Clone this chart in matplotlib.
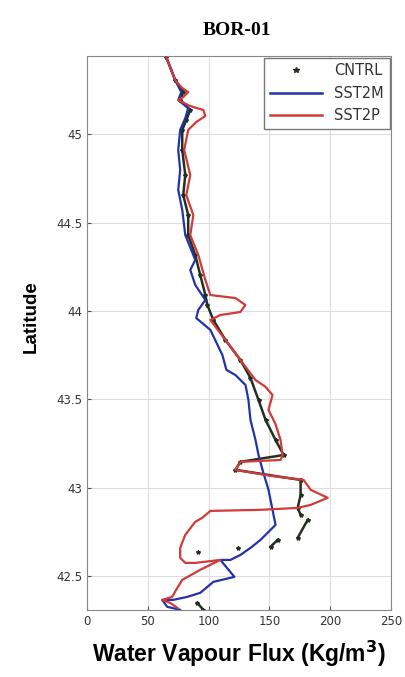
import numpy as np
import matplotlib
matplotlib.use("Agg")
import matplotlib.pyplot as plt
from matplotlib.lines import Line2D

# SST2P (red) path: flux, latitude
sst2p_flux = [65.2, 72.6, 78.4, 83.3, 79.2, 75.1, 85.0, 95.7, 97.4, 89.9, 83.3,
              80.0, 85.0, 81.7, 87.5, 85.0, 91.6, 97.4, 101.5, 122.1, 130.3, 126.2,
              109.7, 101.5, 113.9, 126.2, 138.6, 146.9, 152.6, 149.3, 155.1, 159.2,
              160.9, 159.2, 126.2, 122.1, 151.0, 178.2, 184.0, 198.0, 184.0, 173.3,
              142.7, 101.5, 94.9, 89.1, 80.9, 76.7, 76.7, 80.9, 89.1, 109.7, 93.2,
              78.4, 73.4, 70.1, 61.9, 68.5, 74.3]
sst2p_lat = [45.435, 45.305, 45.26, 45.237, 45.209, 45.192, 45.158, 45.136, 45.102,
             45.068, 45.023, 44.91, 44.768, 44.655, 44.542, 44.429, 44.316, 44.175,
             44.09, 44.073, 44.034, 43.994, 43.977, 43.949, 43.836, 43.723, 43.61,
             43.571, 43.525, 43.441, 43.36, 43.271, 43.184, 43.158, 43.147, 43.102,
             43.068, 43.045, 42.989, 42.944, 42.904, 42.887, 42.876, 42.87, 42.831,
             42.808, 42.735, 42.661, 42.605, 42.576, 42.576, 42.593, 42.537, 42.48,
             42.424, 42.384, 42.367, 42.35, 42.322]

# SST2M (blue) path
sst2m_flux = [65.2, 72.6, 77.6, 75.1, 83.3, 80.9, 76.7, 75.1, 76.7, 75.1, 78.4,
              80.9, 89.1, 85.0, 89.1, 97.4, 91.6, 89.9, 101.5, 111.4, 114.7, 122.1,
              130.4, 132.8, 134.5, 138.6, 141.1, 144.4, 149.3, 152.6, 155.1, 149.3,
              142.7, 134.5, 126.2, 118.0, 109.7, 121.3, 104.0, 93.2, 82.5, 71.0,
              61.9, 66.0, 76.7]
sst2m_lat = [45.435, 45.305, 45.237, 45.192, 45.147, 45.09, 45.023, 44.91, 44.797,
             44.684, 44.571, 44.429, 44.288, 44.232, 44.147, 44.062, 44.006, 43.96,
             43.893, 43.751, 43.667, 43.638, 43.582, 43.497, 43.384, 43.271, 43.186,
             43.102, 42.989, 42.876, 42.791, 42.751, 42.706, 42.661, 42.621, 42.593,
             42.593, 42.497, 42.469, 42.407, 42.384, 42.367, 42.367, 42.328, 42.311]

# CNTRL (star markers), NaN = gap in the record
cntrl_flux = [65.2, 72.6, 79.2, 76.7, 85.0, 81.7, 78.4, 78.4, 80.9, 79.2, 83.3,
              83.3, 89.1, 93.2, 97.4, 99.0, 104.0, 113.9, 126.2, 134.5, 141.1,
              146.9, 155.1, 161.7, 126.2, 122.1, 175.7, 175.7, 173.3, 175.7, np.nan,
              181.5, 173.3, np.nan, 156.8, 151.0, np.nan, 124.6, np.nan, 91.6,
              np.nan, 90.8, 95.7]
cntrl_lat = [45.435, 45.305, 45.237, 45.192, 45.136, 45.079, 45.023, 44.91, 44.768,
             44.655, 44.542, 44.429, 44.316, 44.203, 44.09, 44.034, 43.949, 43.836,
             43.723, 43.621, 43.497, 43.384, 43.271, 43.186, 43.147, 43.102, 43.045,
             42.96, 42.887, 42.847, np.nan, 42.819, 42.718, np.nan, 42.706, 42.667,
             np.nan, 42.661, np.nan, 42.638, np.nan, 42.35, 42.311]

x_ticks = [0, 50, 100, 150, 200, 250]
y_ticks = [42.5, 43, 43.5, 44, 44.5, 45]
y_tick_labels = ["42.5", "43", "43.5", "44", "44.5", "45"]

fig = plt.figure(figsize=(4.06, 6.77), dpi=100)
ax = fig.add_axes([0.214, 0.099, 0.749, 0.818])

cntrl_color = "#23301f"
ax.plot(cntrl_flux, cntrl_lat, "-", color=cntrl_color, lw=1.8, zorder=2)
ax.plot(cntrl_flux, cntrl_lat, "*", color=cntrl_color, ms=3, zorder=2)
ax.plot(sst2m_flux, sst2m_lat, color="#2233aa", lw=1.6, zorder=3)
ax.plot(sst2p_flux, sst2p_lat, color="#d23a3a", lw=1.6, zorder=4)

ax.set_xlim(0, 250)
ax.set_ylim(42.31, 45.44)
ax.set_xticks(x_ticks)
ax.set_yticks(y_ticks)
ax.set_yticklabels(y_tick_labels)
ax.tick_params(direction="in", labelsize=8.5, length=3, color="#555555",
               labelcolor="#333333")
ax.grid(True, color="#dddddd", lw=0.8)
for s in ax.spines.values():
    s.set_color("#888888")

handles = [
    Line2D([], [], ls="none", marker="*", color=cntrl_color, ms=4),
    Line2D([], [], color="#2233aa", lw=1.8),
    Line2D([], [], color="#d23a3a", lw=1.8),
]
leg = ax.legend(handles, ["CNTRL", "SST2M", "SST2P"], loc="upper right",
                fontsize=10.5, fancybox=False, borderaxespad=0.1,
                handlelength=3.6, framealpha=1, labelspacing=0.5)
leg.get_frame().set_edgecolor("#777777")
for t in leg.get_texts():
    t.set_color("#333333")

fig.text(0.584, 0.955, "BOR-01", ha="center", va="center", fontsize=14,
         fontweight="bold", family="Liberation Serif")
ax.set_ylabel("Latitude", fontsize=13.5, fontweight="bold",
              family="Liberation Sans")
ax.yaxis.set_label_coords(-0.155, 0.53)
ax.set_xlabel("Water Vapour Flux (Kg/m$^\\mathbf{3}$)", fontsize=16.5,
              fontweight="bold", labelpad=8, family="Liberation Sans")

fig.savefig("out.png", dpi=100)
